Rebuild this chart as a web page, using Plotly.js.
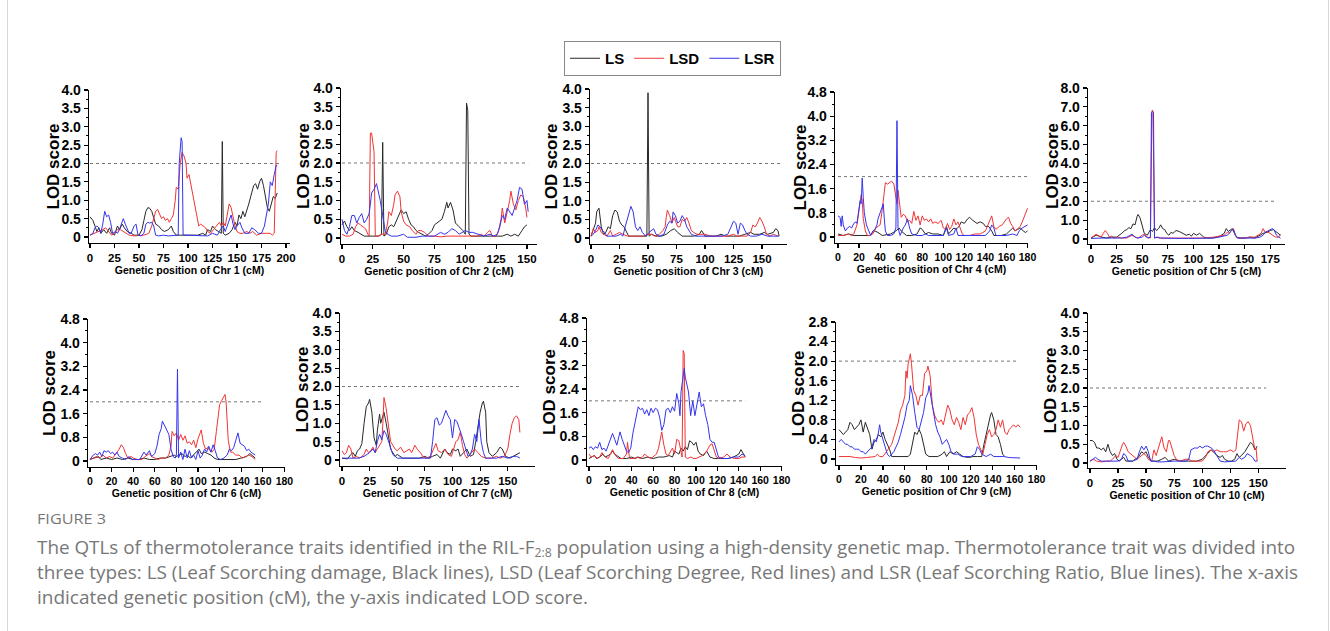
<!DOCTYPE html>
<html><head><meta charset="utf-8">
<script src="https://cdn.plot.ly/plotly-3.0.1.min.js"></script>
<style>
html,body{margin:0;padding:0;background:#fff;}
#wrap{position:relative;width:1330px;height:631px;overflow:hidden;background:#fff;}
#chart{position:absolute;left:0;top:0;width:1330px;height:631px;}
#frame{position:absolute;left:7px;width:1320px;top:-10px;bottom:-10px;border-left:1px solid #d8d8d8;border-right:1px solid #d8d8d8;pointer-events:none;}
.cap{position:absolute;left:37px;white-space:nowrap;color:#777;font-family:"Open Sans","Noto Sans",sans-serif;transform-origin:0 50%;line-height:1;}
.cap sub{font-size:12px;line-height:0;vertical-align:-0.25em;}
</style></head>
<body><div id="wrap"><div id="chart"></div><div id="frame"></div>
<div class="cap" id="fig" style="top:511px;font-size:15px;">FIGURE 3</div>
<div class="cap" id="l1" style="top:538px;font-size:18.5px;">The QTLs of thermotolerance traits identified in the RIL-F<sub>2:8</sub> population using a high-density genetic map. Thermotolerance trait was divided into</div>
<div class="cap" id="l2" style="top:563px;font-size:18.5px;">three types: LS (Leaf Scorching damage, Black lines), LSD (Leaf Scorching Degree, Red lines) and LSR (Leaf Scorching Ratio, Blue lines). The x-axis</div>
<div class="cap" id="l3" style="top:588px;font-size:18.5px;">indicated genetic position (cM), the y-axis indicated LOD score.</div>
</div>
<script>
// ---------- data: [position cM, LOD] ----------
const chr1_LS=[[0,0.55],[3,0.45],[5,0.3],[7,0.15],[9,0.25],[11,0.1],[14,0.2],[17,0.1],[20,0.25],[22,0.1],[25,0.05],[28,0.3],[30,0.2],[33,0.35],[35,0.25],[38,0.15],[42,0.1],[45,0.05],[50,0.05],[53,0.2],[55,0.45],[57,0.7],[59,0.8],[61,0.78],[63,0.7],[65,0.55],[67,0.35],[70,0.3],[73,0.2],[76,0.15],[80,0.2],[83,0.3],[85,0.15],[88,0.05],[92,0.05],[96,0.05],[100,0.05],[105,0.05],[110,0.05],[115,0.1],[118,0.05],[120,0.2],[123,0.15],[125,0.3],[128,0.2],[131,0.15],[134,0.1],[135,2.6],[136,0.1],[138,0.05],[142,0.1],[145,0.2],[148,0.4],[150,0.3],[152,0.6],[154,0.5],[156,0.7],[158,0.55],[160,0.7],[162,0.9],[165,1.2],[167,1.4],[169,1.45],[171,1.3],[173,1.5],[175,1.6],[177,1.4],[179,1.1],[181,0.8],[183,0.7],[185,0.9],[187,1.1],[189,1.05],[191,1.2]];
const chr1_LSD=[[0,0.05],[5,0.1],[10,0.15],[13,0.2],[16,0.25],[19,0.15],[22,0.05],[25,0.1],[28,0.2],[31,0.2],[34,0.15],[37,0.1],[40,0.05],[45,0.03],[50,0.03],[55,0.05],[60,0.1],[63,0.3],[65,0.5],[67,0.7],[69,0.75],[71,0.6],[73,0.5],[75,0.55],[77,0.45],[79,0.5],[81,0.4],[83,0.5],[85,0.6],[87,1.0],[88,1.35],[90,1.3],[91,1.6],[92,2.0],[94,2.3],[96,2.2],[98,2.0],[99,1.6],[101,1.7],[103,1.4],[105,1.1],[107,0.9],[109,0.6],[111,0.3],[113,0.35],[115,0.3],[118,0.25],[120,0.15],[123,0.1],[126,0.2],[129,0.3],[132,0.4],[134,0.3],[136,0.4],[138,0.3],[140,0.6],[142,0.9],[144,0.8],[146,0.5],[148,0.3],[150,0.15],[153,0.1],[156,0.1],[160,0.15],[163,0.1],[166,0.15],[170,0.05],[175,0.1],[180,0.1],[184,0.1],[186,0.05],[188,0.1],[190,2.3],[191,2.35]];
const chr1_LSR=[[0,0.05],[3,0.1],[5,0.25],[7,0.3],[9,0.25],[11,0.1],[13,0.35],[15,0.7],[17,0.55],[19,0.6],[21,0.4],[23,0.1],[26,0.15],[28,0.1],[30,0.2],[32,0.35],[34,0.5],[36,0.35],[38,0.2],[40,0.1],[42,0.1],[45,0.3],[47,0.35],[49,0.05],[52,0.03],[55,0.1],[57,0.35],[59,0.4],[61,0.38],[63,0.4],[65,0.3],[67,0.05],[70,0.03],[75,0.05],[80,0.03],[85,0.05],[90,0.05],[91,2.0],[93,2.7],[94,2.6],[95,0.05],[98,0.05],[105,0.05],[110,0.03],[115,0.05],[120,0.03],[125,0.1],[130,0.05],[133,0.2],[136,0.3],[138,0.15],[140,0.3],[142,0.4],[144,0.6],[146,0.35],[148,0.2],[150,0.3],[153,0.4],[155,0.25],[158,0.1],[162,0.1],[165,0.25],[168,0.2],[172,0.1],[175,0.1],[178,0.3],[180,0.6],[182,0.9],[184,1.5],[186,1.4],[188,1.7],[190,1.95],[191,1.95]];

const chr2_LS=[[0,0.35],[2,0.45],[4,0.3],[6,0.2],[8,0.3],[10,0.2],[13,0.15],[16,0.1],[18,0.05],[20,0.05],[25,0.05],[30,0.05],[32,0.1],[33,2.55],[34,0.05],[36,0.1],[38,0.3],[40,0.35],[42,0.3],[44,0.45],[46,0.6],[48,0.75],[50,0.65],[52,0.7],[54,0.5],[56,0.35],[58,0.3],[60,0.2],[62,0.15],[65,0.1],[68,0.05],[70,0.1],[73,0.2],[75,0.35],[77,0.4],[79,0.45],[81,0.5],[83,0.7],[85,0.95],[86,0.8],[88,0.95],[90,0.75],[92,0.4],[95,0.3],[98,0.2],[100,0.1],[101,3.6],[102,3.4],[103,0.1],[105,0.05],[110,0.05],[115,0.05],[120,0.03],[125,0.03],[130,0.05],[134,0.1],[137,0.05],[140,0.1],[143,0.05],[146,0.2],[148,0.3],[150,0.35]];
const chr2_LSD=[[0,0.1],[3,0.05],[6,0.05],[9,0.1],[11,0.3],[13,0.4],[15,0.35],[17,0.3],[19,0.25],[21,0.1],[22,0.05],[23,2.8],[24,2.8],[26,2.3],[27,0.05],[29,0.05],[32,0.1],[35,0.1],[37,0.4],[38,0.7],[40,0.6],[42,0.9],[43,1.15],[45,1.25],[47,1.1],[48,0.7],[50,0.45],[52,0.35],[55,0.3],[57,0.2],[60,0.1],[62,0.2],[64,0.2],[67,0.15],[70,0.05],[75,0.05],[80,0.03],[85,0.05],[90,0.05],[95,0.03],[100,0.05],[105,0.05],[110,0.05],[113,0.1],[115,0.05],[118,0.15],[120,0.2],[122,0.05],[125,0.05],[127,0.2],[129,0.5],[130,0.8],[132,0.4],[134,0.7],[136,1.0],[137,1.25],[139,0.9],[141,0.75],[143,1.0],[145,1.15],[147,1.1],[149,0.8],[150,0.55]];
const chr2_LSR=[[0,0.5],[2,0.2],[4,0.1],[6,0.3],[8,0.6],[10,0.6],[12,0.4],[14,0.55],[16,0.65],[18,0.4],[20,0.5],[22,0.65],[23,0.9],[24,1.2],[26,1.3],[28,1.45],[29,1.3],[31,1.0],[33,0.6],[35,0.2],[37,0.1],[40,0.05],[45,0.05],[50,0.1],[53,0.02],[60,0.02],[65,0.05],[70,0.05],[75,0.05],[80,0.15],[83,0.1],[86,0.15],[89,0.25],[92,0.2],[95,0.1],[100,0.2],[103,0.15],[106,0.15],[110,0.1],[115,0.05],[120,0.1],[123,0.05],[126,0.1],[128,0.3],[130,0.6],[132,0.5],[134,0.8],[136,0.7],[138,0.6],[140,0.8],[142,1.0],[144,1.35],[146,1.3],[148,0.9],[150,1.0],[151,0.7]];

const chr3_LS=[[0,0.05],[2,0.2],[4,0.4],[5,0.7],[7,0.8],[9,0.3],[11,0.1],[13,0.15],[15,0.3],[17,0.25],[19,0.6],[21,0.75],[23,0.7],[25,0.45],[27,0.35],[29,0.3],[31,0.15],[33,0.05],[36,0.05],[40,0.05],[45,0.05],[49,0.05],[50,3.9],[51,0.05],[53,0.1],[57,0.05],[62,0.05],[66,0.1],[70,0.2],[73,0.25],[76,0.15],[80,0.05],[85,0.05],[90,0.05],[95,0.1],[97,0.2],[100,0.05],[105,0.05],[110,0.05],[114,0.1],[118,0.05],[125,0.05],[130,0.05],[135,0.1],[140,0.15],[143,0.1],[148,0.1],[152,0.15],[155,0.1],[160,0.15],[162,0.25],[164,0.2],[165,0.05]];
const chr3_LSD=[[0,0.05],[2,0.25],[4,0.15],[6,0.2],[7,0.3],[9,0.15],[11,0.1],[14,0.05],[17,0.2],[19,0.05],[22,0.1],[25,0.15],[28,0.1],[32,0.05],[38,0.05],[42,0.05],[46,0.05],[50,0.1],[53,0.1],[56,0.05],[60,0.1],[63,0.2],[65,0.3],[66,0.55],[67,0.75],[69,0.6],[71,0.4],[73,0.55],[74,0.45],[76,0.3],[78,0.3],[80,0.5],[82,0.45],[84,0.55],[86,0.4],[88,0.2],[90,0.15],[93,0.1],[96,0.1],[100,0.1],[105,0.05],[110,0.05],[115,0.05],[120,0.05],[125,0.1],[128,0.05],[132,0.05],[137,0.05],[140,0.15],[142,0.35],[144,0.3],[146,0.4],[148,0.55],[150,0.45],[152,0.3],[154,0.1],[157,0.05],[160,0.1],[164,0.05]];
const chr3_LSR=[[0,0.05],[2,0.1],[4,0.2],[6,0.35],[8,0.3],[10,0.2],[12,0.15],[14,0.05],[18,0.05],[22,0.05],[26,0.1],[28,0.05],[30,0.3],[32,0.55],[34,0.8],[35,0.85],[37,0.7],[39,0.3],[41,0.2],[43,0.3],[45,0.15],[48,0.05],[51,0.15],[53,0.2],[55,0.25],[57,0.1],[60,0.05],[64,0.1],[67,0.35],[69,0.45],[71,0.4],[72,0.7],[74,0.6],[76,0.4],[78,0.45],[80,0.6],[82,0.5],[84,0.3],[86,0.2],[88,0.1],[92,0.05],[96,0.05],[100,0.05],[110,0.05],[115,0.05],[120,0.1],[123,0.3],[125,0.45],[127,0.4],[129,0.1],[131,0.4],[133,0.35],[135,0.2],[137,0.1],[140,0.05],[145,0.05],[150,0.1],[155,0.05],[160,0.05],[165,0.05]];

const chr4_LS=[[0,0.1],[5,0.05],[10,0.1],[15,0.05],[20,0.05],[25,0.05],[30,0.05],[35,0.2],[38,0.15],[42,0.05],[50,0.1],[55,0.2],[58,0.3],[60,0.2],[63,0.1],[65,0.05],[70,0.05],[75,0.1],[78,0.3],[80,0.25],[83,0.1],[86,0.15],[90,0.1],[95,0.1],[100,0.05],[103,0.35],[105,0.1],[108,0.2],[110,0.3],[112,0.25],[115,0.35],[117,0.5],[120,0.45],[123,0.6],[125,0.65],[128,0.55],[132,0.45],[135,0.5],[138,0.45],[140,0.35],[143,0.35],[146,0.2],[148,0.05],[152,0.05],[155,0.05],[160,0.1],[163,0.2],[166,0.3],[168,0.2],[170,0.25],[173,0.3],[176,0.2],[178,0.15],[180,0.2]];
const chr4_LSD=[[0,0.05],[5,0.05],[10,0.1],[13,0.05],[15,0.1],[18,0.4],[20,0.9],[22,1.4],[23,1.2],[24,0.6],[26,0.2],[28,0.05],[30,0.05],[33,0.1],[36,0.3],[38,0.35],[40,0.4],[42,0.9],[44,1.6],[45,1.8],[47,1.75],[49,1.8],[51,1.85],[53,1.75],[55,1.3],[56,1.1],[57,1.55],[58,1.2],[59,0.9],[60,0.65],[62,0.75],[64,0.7],[66,0.5],[68,0.55],[70,0.45],[72,0.85],[74,0.55],[76,0.7],[78,0.4],[80,0.7],[82,0.55],[84,0.6],[86,0.5],[88,0.6],[90,0.45],[92,0.5],[95,0.45],[98,0.55],[100,0.3],[102,0.25],[104,0.45],[106,0.25],[108,0.35],[110,0.6],[112,0.4],[114,0.5],[116,0.3],[118,0.1],[120,0.05],[125,0.05],[130,0.1],[135,0.1],[140,0.2],[142,0.35],[144,0.55],[146,0.7],[148,0.35],[150,0.25],[153,0.35],[156,0.4],[158,0.5],[160,0.6],[162,0.65],[164,0.45],[166,0.35],[168,0.2],[170,0.25],[173,0.35],[175,0.5],[177,0.7],[180,0.95]];
const chr4_LSR=[[0,0.7],[2,0.65],[3,0.35],[4,0.7],[5,0.4],[7,0.2],[9,0.3],[11,0.35],[13,0.3],[15,0.45],[17,0.5],[18,0.45],[19,0.7],[20,1.0],[21,1.2],[22,1.1],[23,1.95],[24,1.3],[25,0.8],[27,0.4],[29,0.2],[31,0.05],[33,0.2],[35,0.25],[37,0.4],[38,0.6],[40,0.8],[42,1.05],[43,1.1],[44,0.6],[45,0.2],[47,0.05],[50,0.05],[53,0.1],[55,0.3],[56,3.85],[57,0.3],[59,0.05],[62,0.3],[64,0.4],[66,0.6],[68,0.3],[70,0.1],[75,0.05],[80,0.05],[83,0.1],[86,0.05],[95,0.05],[100,0.05],[103,0.3],[105,0.05],[110,0.1],[112,0.3],[114,0.05],[120,0.05],[130,0.05],[140,0.05],[144,0.2],[146,0.4],[148,0.3],[150,0.05],[160,0.05],[166,0.1],[170,0.05],[172,0.2],[175,0.3],[178,0.35],[180,0.4]];

const chr5_LS=[[0,0.05],[3,0.15],[5,0.2],[8,0.15],[10,0.1],[15,0.05],[20,0.1],[25,0.1],[28,0.2],[30,0.3],[33,0.45],[35,0.5],[37,0.6],[39,0.55],[41,0.8],[43,0.75],[45,1.2],[46,1.3],[48,1.1],[50,0.7],[52,0.3],[55,0.2],[58,0.5],[60,0.4],[62,0.6],[64,0.45],[66,0.55],[68,0.75],[70,0.55],[72,0.5],[74,0.3],[76,0.2],[78,0.35],[80,0.3],[83,0.45],[86,0.4],[88,0.35],[90,0.3],[93,0.2],[96,0.25],[98,0.15],[100,0.3],[103,0.2],[106,0.3],[108,0.2],[110,0.1],[114,0.05],[118,0.05],[122,0.1],[126,0.15],[130,0.3],[132,0.55],[134,0.4],[136,0.5],[138,0.55],[140,0.3],[142,0.1],[146,0.05],[150,0.05],[155,0.1],[160,0.05],[165,0.2],[168,0.3],[172,0.35],[175,0.45],[178,0.5],[180,0.4],[182,0.35],[185,0.2]];
const chr5_LSD=[[0,0.05],[3,0.2],[5,0.25],[8,0.15],[10,0.1],[12,0.3],[14,0.45],[16,0.3],[18,0.1],[20,0.15],[23,0.05],[26,0.1],[30,0.05],[35,0.05],[40,0.2],[43,0.1],[46,0.05],[50,0.2],[52,0.25],[55,0.1],[58,0.05],[59.5,6.8],[60.5,6.8],[62,0.05],[64,0.1],[66,0.05],[70,0.05],[80,0.05],[90,0.05],[100,0.05],[110,0.05],[120,0.1],[125,0.15],[130,0.2],[133,0.35],[135,0.3],[137,0.45],[139,0.55],[141,0.2],[143,0.05],[150,0.05],[155,0.1],[160,0.1],[163,0.2],[166,0.3],[168,0.55],[170,0.35],[172,0.4],[175,0.3],[178,0.2],[180,0.1],[183,0.1],[185,0.25]];
const chr5_LSR=[[0,0.03],[5,0.05],[10,0.05],[20,0.05],[30,0.05],[35,0.1],[38,0.2],[40,0.25],[42,0.15],[45,0.05],[50,0.1],[52,0.2],[54,0.1],[56,0.05],[58,0.1],[59,6.7],[60,6.75],[61,6.7],[62,0.05],[65,0.1],[68,0.05],[75,0.03],[85,0.03],[95,0.03],[105,0.03],[115,0.05],[120,0.05],[125,0.1],[130,0.15],[133,0.2],[135,0.3],[137,0.45],[139,0.5],[141,0.2],[143,0.05],[150,0.05],[160,0.05],[165,0.1],[168,0.2],[170,0.35],[173,0.45],[175,0.5],[177,0.55],[179,0.45],[181,0.2],[183,0.1],[185,0.05]];

const chr6_LS=[[0,0.05],[5,0.1],[8,0.15],[10,0.05],[15,0.1],[20,0.05],[25,0.1],[30,0.05],[35,0.1],[40,0.05],[45,0.05],[50,0.1],[55,0.05],[60,0.05],[65,0.1],[70,0.1],[75,0.15],[78,0.2],[80,0.15],[82,0.2],[85,0.25],[88,0.15],[90,0.2],[93,0.1],[96,0.2],[99,0.3],[101,0.4],[103,0.25],[106,0.3],[109,0.25],[112,0.2],[115,0.1],[118,0.05],[125,0.05],[130,0.05],[135,0.05],[140,0.1],[145,0.15],[148,0.25],[150,0.2],[153,0.1]];
const chr6_LSD=[[0,0.05],[3,0.1],[6,0.15],[9,0.1],[12,0.2],[15,0.1],[18,0.15],[21,0.1],[24,0.25],[27,0.4],[29,0.55],[31,0.45],[33,0.25],[35,0.1],[38,0.15],[40,0.1],[44,0.05],[48,0.05],[51,0.15],[53,0.2],[55,0.25],[57,0.15],[60,0.1],[63,0.05],[66,0.1],[70,0.1],[73,0.2],[75,0.5],[76,1.0],[78,0.85],[80,0.95],[82,0.7],[84,0.9],[86,0.7],[88,0.85],[90,0.6],[92,0.65],[94,0.55],[96,0.7],[98,0.45],[100,0.75],[102,0.95],[103,1.05],[105,0.6],[107,0.4],[109,0.45],[111,0.35],[113,0.3],[115,0.4],[117,1.0],[119,1.6],[120,1.9],[122,2.05],[124,2.2],[125,2.25],[126,2.0],[127,1.4],[128,0.7],[130,0.3],[132,0.3],[135,0.2],[138,0.2],[141,0.1],[144,0.15],[147,0.2],[150,0.15],[153,0.05]];
const chr6_LSR=[[0,0.05],[3,0.2],[5,0.25],[7,0.2],[9,0.3],[11,0.15],[13,0.35],[15,0.3],[17,0.35],[19,0.25],[21,0.3],[23,0.2],[25,0.3],[27,0.15],[30,0.1],[33,0.05],[36,0.15],[39,0.05],[42,0.05],[46,0.05],[50,0.3],[52,0.2],[55,0.35],[57,0.15],[60,0.25],[62,0.5],[64,0.9],[66,1.1],[67,1.35],[69,1.2],[71,1.1],[73,0.9],[75,0.4],[77,0.15],[79,0.1],[80,0.2],[81,3.1],[82,0.1],[84,0.3],[86,0.05],[88,0.4],[90,0.1],[92,0.35],[94,0.1],[96,0.2],[98,0.05],[100,0.35],[102,0.1],[104,0.2],[106,0.4],[108,0.3],[110,0.5],[112,0.3],[114,0.55],[116,0.35],[118,0.1],[121,0.05],[124,0.1],[127,0.2],[129,0.4],[131,0.35],[133,0.45],[135,0.7],[137,0.95],[139,0.6],[141,0.55],[143,0.5],[145,0.35],[147,0.4],[149,0.3],[151,0.25],[153,0.2]];

const chr7_LS=[[0,0.05],[5,0.03],[8,0.15],[10,0.2],[12,0.1],[14,0.25],[16,0.3],[18,0.45],[20,1.0],[22,1.45],[24,1.55],[25,1.65],[27,1.3],[29,0.6],[31,0.4],[32,0.8],[34,1.25],[35,1.0],[37,1.2],[38,1.3],[40,1.0],[42,0.6],[44,0.3],[46,0.2],[48,0.1],[50,0.15],[55,0.05],[60,0.05],[65,0.05],[70,0.05],[75,0.1],[78,0.05],[82,0.1],[86,0.15],[89,0.05],[93,0.3],[95,0.2],[98,0.15],[100,0.3],[103,0.25],[105,0.3],[107,0.1],[110,0.2],[113,0.3],[116,0.1],[119,0.15],[121,0.5],[123,0.9],[125,1.3],[127,1.55],[128,1.6],[130,1.3],[131,0.5],[133,0.2],[136,0.1],[140,0.2],[143,0.35],[145,0.3],[148,0.1],[152,0.05],[155,0.1],[158,0.15],[161,0.2]];
const chr7_LSD=[[0,0.25],[2,0.15],[4,0.2],[6,0.4],[8,0.3],[10,0.05],[13,0.1],[16,0.05],[20,0.15],[22,0.3],[24,0.2],[26,0.25],[28,0.35],[30,0.2],[32,0.3],[34,0.4],[36,0.5],[37,1.0],[38,1.7],[40,1.4],[42,1.0],[44,0.5],[46,0.4],[48,0.3],[50,0.25],[53,0.35],[56,0.2],[58,0.25],[61,0.3],[63,0.2],[66,0.4],[68,0.3],[71,0.2],[73,0.1],[76,0.05],[80,0.1],[83,0.3],[85,0.45],[87,0.25],[90,0.2],[93,0.3],[96,0.15],[99,0.1],[101,0.3],[103,0.5],[105,0.55],[107,0.75],[109,0.4],[111,0.15],[113,0.05],[117,0.2],[120,0.3],[123,0.2],[126,0.1],[130,0.05],[135,0.05],[140,0.1],[143,0.05],[147,0.1],[150,0.3],[152,0.7],[154,1.0],[156,1.15],[158,1.2],[160,1.1],[161,0.75]];
const chr7_LSR=[[0,0.05],[5,0.05],[10,0.05],[15,0.05],[20,0.1],[23,0.15],[25,0.2],[28,0.3],[30,0.2],[32,0.5],[34,0.7],[36,0.55],[38,0.8],[40,0.7],[42,0.5],[44,0.35],[46,0.15],[50,0.05],[55,0.05],[60,0.05],[65,0.03],[70,0.03],[75,0.05],[80,0.05],[82,0.5],[84,1.1],[86,1.15],[88,0.95],[90,1.0],[92,1.2],[94,1.35],[96,1.2],[98,1.1],[100,0.6],[102,1.1],[104,1.05],[106,0.9],[108,0.7],[110,0.5],[112,0.3],[114,0.1],[116,0.15],[118,0.3],[120,0.7],[122,0.5],[124,1.1],[126,0.5],[128,0.2],[130,0.05],[135,0.05],[140,0.05],[145,0.1],[150,0.05],[155,0.1],[158,0.1],[161,0.05]];

const chr8_LS=[[0,0.05],[3,0.1],[5,0.15],[7,0.05],[10,0.1],[13,0.2],[15,0.1],[18,0.15],[20,0.2],[22,0.3],[24,0.2],[26,0.15],[28,0.1],[30,0.05],[35,0.05],[40,0.1],[43,0.05],[46,0.1],[50,0.05],[55,0.1],[60,0.05],[65,0.1],[70,0.1],[75,0.15],[78,0.1],[80,0.3],[82,0.25],[84,0.2],[86,0.4],[88,0.3],[90,0.45],[92,0.35],[94,0.65],[96,0.6],[98,0.5],[100,0.6],[102,0.3],[104,0.2],[107,0.15],[110,0.3],[113,0.1],[117,0.05],[120,0.05],[125,0.05],[130,0.05],[135,0.1],[140,0.2],[142,0.35],[144,0.2],[146,0.1]];
const chr8_LSD=[[0,0.2],[2,0.1],[5,0.15],[8,0.05],[10,0.1],[12,0.25],[15,0.1],[18,0.05],[20,0.2],[22,0.35],[24,0.2],[26,0.1],[28,0.05],[32,0.05],[35,0.2],[36,0.6],[37,0.3],[38,0.05],[42,0.05],[45,0.1],[48,0.05],[50,0.1],[52,0.2],[55,0.1],[58,0.05],[60,0.1],[63,0.2],[65,0.4],[67,0.7],[68,0.95],[70,0.5],[72,0.2],[74,0.15],[76,0.3],[78,0.4],[80,0.2],[82,0.7],[84,0.65],[86,0.3],[87,0.1],[88,3.7],[89,3.6],[90,0.1],[92,0.05],[95,0.1],[98,0.05],[100,0.05],[103,0.1],[106,0.15],[110,0.3],[113,0.5],[115,0.55],[117,0.3],[119,0.1],[122,0.05],[126,0.1],[129,0.2],[132,0.1],[136,0.05],[140,0.05],[143,0.1],[146,0.1]];
const chr8_LSR=[[0,0.4],[2,0.45],[4,0.35],[6,0.45],[8,0.4],[10,0.6],[12,0.35],[14,0.4],[16,0.3],[18,0.5],[20,0.65],[22,0.9],[24,0.7],[26,0.5],[28,0.8],[29,0.95],[31,0.7],[33,0.5],[35,0.3],[37,0.25],[39,0.4],[41,0.9],[43,1.3],[45,1.6],[46,1.8],[48,1.7],[50,1.75],[52,1.55],[54,1.7],[56,1.5],[58,1.75],[60,1.6],[62,1.75],[64,1.7],[66,1.45],[68,1.0],[70,1.2],[72,1.7],[74,1.75],[76,1.6],[78,1.8],[80,1.65],[82,2.25],[84,1.9],[85,1.5],[86,2.3],[87,2.6],[89,3.1],[90,2.8],[91,2.6],[93,2.3],[95,1.5],[97,2.0],[99,1.5],[101,1.9],[103,2.3],[105,1.8],[107,1.9],[109,1.5],[111,1.2],[113,0.7],[115,0.6],[117,0.6],[119,0.3],[121,0.1],[125,0.05],[130,0.05],[135,0.1],[140,0.1],[143,0.2],[146,0.15]];

const chr9_LS=[[0,0.6],[2,0.55],[4,0.5],[6,0.55],[8,0.6],[10,0.75],[12,0.7],[14,0.6],[16,0.65],[18,0.7],[20,0.8],[22,0.55],[24,0.75],[26,0.6],[28,0.5],[30,0.2],[32,0.35],[34,0.4],[36,0.5],[38,0.45],[40,0.55],[42,0.4],[44,0.3],[46,0.2],[48,0.05],[50,0.05],[55,0.05],[60,0.05],[63,0.05],[65,0.1],[67,0.3],[69,0.55],[71,0.5],[73,0.6],[75,0.5],[77,0.3],[79,0.1],[82,0.05],[86,0.05],[90,0.05],[94,0.1],[96,0.15],[98,0.05],[101,0.15],[104,0.1],[107,0.15],[110,0.1],[113,0.05],[118,0.03],[122,0.05],[126,0.05],[130,0.05],[132,0.3],[134,0.5],[136,0.75],[138,0.9],[139,0.95],[141,0.8],[143,0.5],[145,0.45],[147,0.3],[149,0.1],[151,0.05]];
const chr9_LSD=[[0,0.05],[5,0.05],[10,0.05],[15,0.03],[20,0.02],[25,0.03],[30,0.05],[33,0.05],[35,0.1],[37,0.05],[40,0.05],[43,0.15],[46,0.25],[48,0.3],[50,0.45],[52,0.6],[54,0.75],[56,1.0],[58,1.1],[60,1.3],[61,1.8],[62,1.65],[63,1.95],[65,2.15],[66,1.95],[68,1.4],[70,1.3],[72,1.1],[74,1.3],[76,1.3],[78,1.75],[80,1.8],[81,1.9],[83,1.7],[85,1.1],[87,0.9],[89,0.8],[91,0.75],[93,0.8],[95,0.7],[97,0.9],[99,1.1],[101,1.0],[103,0.8],[105,0.7],[107,0.85],[109,0.75],[111,0.6],[113,0.85],[115,0.7],[117,0.9],[119,0.95],[121,1.05],[123,0.85],[125,0.5],[127,0.3],[129,0.2],[131,0.1],[133,0.3],[135,0.5],[137,0.6],[139,0.45],[141,0.5],[143,0.6],[145,0.8],[147,0.65],[149,0.8],[151,0.55],[153,0.5],[155,0.6],[157,0.65],[159,0.7],[161,0.65],[163,0.7],[165,0.65]];
const chr9_LSR=[[0,0.35],[2,0.4],[4,0.35],[6,0.3],[8,0.3],[10,0.25],[12,0.25],[14,0.2],[16,0.2],[18,0.2],[20,0.15],[22,0.15],[24,0.1],[26,0.15],[28,0.2],[30,0.25],[32,0.4],[34,0.35],[36,0.55],[37,0.7],[38,0.55],[40,0.4],[42,0.2],[44,0.1],[46,0.05],[48,0.1],[50,0.15],[52,0.25],[54,0.35],[56,0.5],[58,0.65],[60,0.85],[62,1.1],[64,1.2],[65,1.5],[67,1.3],[69,0.95],[71,0.65],[73,0.6],[75,0.75],[77,0.95],[79,1.25],[81,1.35],[82,1.5],[84,1.2],[86,0.9],[88,0.7],[90,0.55],[92,0.45],[94,0.3],[96,0.35],[98,0.4],[100,0.3],[102,0.15],[105,0.1],[108,0.1],[112,0.05],[116,0.05],[120,0.05],[124,0.1],[126,0.25],[128,0.2],[130,0.1],[134,0.05],[138,0.1],[141,0.05],[145,0.05],[150,0.05],[155,0.03],[160,0.03],[165,0.02]];

const chr10_LS=[[0,0.6],[2,0.6],[4,0.55],[6,0.4],[8,0.4],[10,0.35],[12,0.4],[14,0.3],[16,0.5],[18,0.3],[20,0.2],[22,0.25],[24,0.1],[26,0.05],[28,0.1],[30,0.15],[32,0.05],[35,0.05],[38,0.05],[40,0.1],[43,0.15],[46,0.3],[48,0.25],[50,0.3],[52,0.15],[55,0.05],[60,0.05],[64,0.1],[67,0.15],[70,0.05],[75,0.1],[80,0.05],[85,0.05],[90,0.05],[95,0.05],[100,0.1],[103,0.2],[106,0.3],[108,0.35],[110,0.3],[113,0.2],[116,0.15],[118,0.2],[120,0.1],[123,0.05],[126,0.05],[129,0.1],[131,0.25],[133,0.15],[135,0.2],[138,0.3],[141,0.45],[143,0.55],[145,0.5],[147,0.35],[149,0.45]];
const chr10_LSD=[[0,0.05],[3,0.1],[6,0.05],[10,0.03],[15,0.05],[18,0.05],[20,0.1],[23,0.2],[25,0.15],[27,0.35],[29,0.5],[30,0.55],[32,0.45],[34,0.3],[36,0.25],[38,0.2],[40,0.15],[42,0.1],[44,0.15],[46,0.2],[48,0.25],[50,0.2],[52,0.1],[55,0.05],[57,0.35],[59,0.2],[61,0.4],[63,0.65],[64,0.7],[66,0.4],[68,0.3],[70,0.6],[71,0.6],[73,0.4],[75,0.2],[77,0.1],[80,0.05],[85,0.1],[88,0.1],[91,0.05],[95,0.05],[100,0.05],[103,0.15],[105,0.3],[108,0.35],[110,0.3],[113,0.35],[116,0.3],[119,0.3],[122,0.3],[125,0.35],[128,0.3],[130,0.35],[132,0.8],[133,1.15],[135,1.1],[137,0.85],[139,1.05],[141,1.1],[143,1.0],[145,0.7],[147,0.35],[148,0.4],[149,0.05]];
const chr10_LSR=[[0,0.05],[3,0.1],[5,0.15],[7,0.1],[10,0.05],[15,0.05],[20,0.05],[25,0.05],[28,0.1],[30,0.25],[32,0.2],[34,0.05],[38,0.05],[42,0.1],[44,0.3],[46,0.45],[48,0.35],[50,0.45],[52,0.3],[54,0.05],[57,0.05],[60,0.03],[65,0.03],[70,0.05],[75,0.05],[80,0.05],[85,0.05],[88,0.1],[90,0.35],[93,0.4],[96,0.4],[98,0.45],[100,0.4],[103,0.45],[105,0.45],[108,0.4],[110,0.35],[113,0.2],[116,0.05],[120,0.03],[125,0.03],[130,0.05],[133,0.15],[135,0.1],[138,0.15],[140,0.25],[143,0.2],[145,0.15],[147,0.05],[149,0.05]];

// tick labels
const xTicks25_200=[0,25,50,75,100,125,150,175,200];
const xTicks25_150=[0,25,50,75,100,125,150];
const xTicks25_175=[0,25,50,75,100,125,150,175];
const xTicks20_180=[0,20,40,60,80,100,120,140,160,180];
const yTicks4=[0,0.5,1.0,1.5,2.0,2.5,3.0,3.5,4.0];
const yTicks48=[0,0.8,1.6,2.4,3.2,4.0,4.8];
const yTicks8=[0,1,2,3,4,5,6,7,8];
const yTicks28=[0,0.4,0.8,1.2,1.6,2.0,2.4,2.8];
const threshold=2.0;
const traitNames=['LS','LSD','LSR'];
const yTitle='LOD score';
const chrData=[[chr1_LS,chr1_LSD,chr1_LSR],[chr2_LS,chr2_LSD,chr2_LSR],[chr3_LS,chr3_LSD,chr3_LSR],[chr4_LS,chr4_LSD,chr4_LSR],[chr5_LS,chr5_LSD,chr5_LSR],[chr6_LS,chr6_LSD,chr6_LSR],[chr7_LS,chr7_LSD,chr7_LSR],[chr8_LS,chr8_LSD,chr8_LSR],[chr9_LS,chr9_LSD,chr9_LSR],[chr10_LS,chr10_LSD,chr10_LSR]];

// ---------- panel geometry (pixels) ----------
const panels=[
 {x0:90,sx:0.98,xL:89,xR:290,yTop:90,y0:237,ax:243,ymax:4,xt:xTicks25_200,yt:yTicks4,minor:0.25,thr:193,tx:53},
 {x0:342,sx:1.233,xL:341,xR:537,yTop:88,y0:238,ax:244,ymax:4,xt:xTicks25_150,yt:yTicks4,minor:0.25,thr:151,tx:303},
 {x0:591,sx:1.14,xL:590,xR:787,yTop:89,y0:238,ax:244,ymax:4,xt:xTicks25_150,yt:yTicks4,minor:0.25,thr:166,tx:551},
 {x0:838,sx:1.053,xL:835,xR:1028,yTop:92,y0:237,ax:243,ymax:4.8,xt:xTicks20_180,yt:yTicks48,minor:0.4,thr:180,tx:800},
 {x0:1091,sx:1.0245,xL:1088,xR:1285,yTop:88,y0:239,ax:244,ymax:8,xt:xTicks25_175,yt:yTicks8,minor:0.5,thr:181,tx:1052},
 {x0:90,sx:1.08,xL:88,xR:285,yTop:319,y0:461,ax:467,ymax:4.8,xt:xTicks20_180,yt:yTicks48,minor:0.4,thr:160,tx:50},
 {x0:342,sx:1.105,xL:340,xR:535,yTop:313,y0:460,ax:466,ymax:4,xt:xTicks25_175,yt:yTicks4,minor:0.25,thr:162,tx:302},
 {x0:589,sx:1.07,xL:587,xR:782,yTop:318,y0:460,ax:466,ymax:4.8,xt:xTicks20_180,yt:yTicks48,minor:0.4,thr:146,tx:549},
 {x0:839,sx:1.098,xL:836,xR:1037,yTop:322,y0:459,ax:465,ymax:2.8,xt:xTicks20_180,yt:yTicks28,minor:0.2,thr:162,tx:798},
 {x0:1090,sx:1.122,xL:1088,xR:1286,yTop:313,y0:463,ax:468,ymax:4,xt:xTicks25_150,yt:yTicks4,minor:0.25,thr:157,tx:1050}
];
const W=1330,H=631;
const colors=['rgb(40,40,40)','rgb(242,52,52)','rgb(52,52,238)'];
const FONT='"Liberation Sans", Arial, sans-serif';

function fmtY(v){ if(v===0) return '<b>0</b>'; return '<b>'+v.toFixed(1)+'</b>'; }

const traces=[];
const layout={width:W,height:H,margin:{l:0,r:0,t:0,b:0},paper_bgcolor:'rgba(0,0,0,0)',plot_bgcolor:'rgba(0,0,0,0)',
 showlegend:true,
 legend:{orientation:'h',x:(563+782)/2/W,xanchor:'center',y:1-41/H,yanchor:'top',bordercolor:'#888',borderwidth:1,bgcolor:'#fff',
   font:{family:FONT,size:15,color:'#000'},itemwidth:30,tracegroupgap:0,traceorder:'normal'},
 shapes:[],annotations:[],font:{family:FONT}};

panels.forEach((p,i)=>{
  const k=i+1, xs=k===1?'x':'x'+k, ys=k===1?'y':'y'+k;
  const sy=(p.y0-p.yTop)/p.ymax;
  const xr=[(p.xL-p.x0)/p.sx,(p.xR-p.x0)/p.sx];
  const yr=[-(p.ax-p.y0)/sy,p.ymax];
  chrData[i].forEach((ser,j)=>{
    traces.push({type:'scatter',mode:'lines',x:ser.map(d=>d[0]),y:ser.map(d=>d[1]),name:'<b>'+traitNames[j]+'</b>',
      legendgroup:traitNames[j],showlegend:i===0,line:{color:colors[j],width:1},xaxis:xs,yaxis:ys,hoverinfo:'skip',cliponaxis:true});
  });
  const xa='xaxis'+(k===1?'':k), ya='yaxis'+(k===1?'':k);
  const small=p.xt.length>9;
  layout[xa]={domain:[p.xL/W,p.xR/W],range:xr,anchor:ys,showline:true,linecolor:'#000',linewidth:1.3,
    ticks:'outside',ticklen:4,tickwidth:1.2,tickcolor:'#000',tickmode:'array',tickvals:p.xt,ticktext:p.xt.map(v=>'<b>'+v+'</b>'),
    tickangle:0,tickfont:{family:FONT,size:small?10.5:11.5,color:'#000'},showgrid:false,zeroline:false,automargin:false,fixedrange:true,
    title:{text:'<b>Genetic position of Chr '+k+' (cM)</b>',font:{family:FONT,size:10.5,color:'#000'},standoff:2}};
  layout[ya]={domain:[1-p.ax/H,1-p.yTop/H],range:yr,anchor:xs,showline:true,linecolor:'#000',linewidth:1.3,
    ticks:'outside',ticklen:4,tickwidth:1.2,tickcolor:'#000',tickmode:'array',tickvals:p.yt,ticktext:p.yt.map(fmtY),
    minor:{ticks:'outside',ticklen:2,tickwidth:1,tickcolor:'#000',dtick:p.minor,tick0:0},
    tickfont:{family:FONT,size:14,color:'#000'},showgrid:false,zeroline:false,automargin:false,fixedrange:true};
  layout.annotations.push({xref:'paper',yref:'paper',x:p.tx/W,y:1-((p.ax+p.yTop)/2)/H,xanchor:'center',yanchor:'middle',
    text:'<b>'+yTitle+'</b>',textangle:-90,showarrow:false,font:{family:FONT,size:17,color:'#000'}});
  layout.shapes.push({type:'line',xref:xs,yref:ys,x0:0,x1:p.thr,y0:threshold,y1:threshold,line:{color:'#777',width:1,dash:'dot'},layer:'below'});
});

Plotly.newPlot('chart',traces,layout,{staticPlot:true,displayModeBar:false}).then(()=>{
  const targets={fig:69,l1:1258,l2:1261,l3:551};
  Object.keys(targets).forEach(id=>{
    const el=document.getElementById(id);
    const w=el.getBoundingClientRect().width;
    if(w>0) el.style.transform='scaleX('+(targets[id]/w)+')';
  });
});
</script>
</body></html>
